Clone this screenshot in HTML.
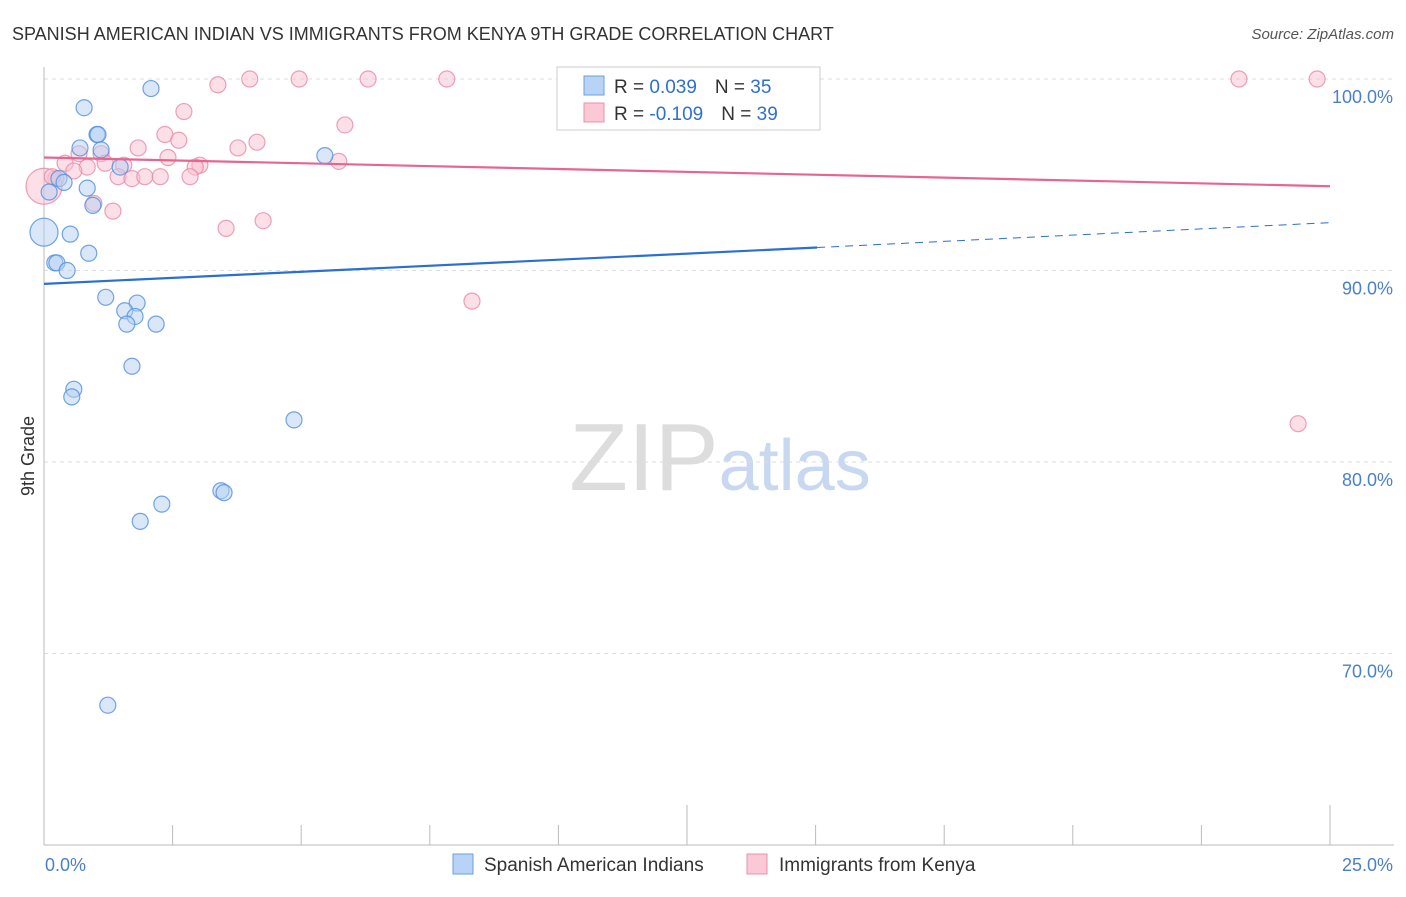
<!DOCTYPE html>
<html><head><meta charset="utf-8"><style>
body{margin:0;background:#fff;font-family:"Liberation Sans",sans-serif}
svg text{font-family:"Liberation Sans",sans-serif}
</style></head><body>
<svg id="chart" width="1406" height="892" viewBox="0 0 1406 892" xmlns="http://www.w3.org/2000/svg">
<text x="12" y="40" font-size="18" fill="#333">SPANISH AMERICAN INDIAN VS IMMIGRANTS FROM KENYA 9TH GRADE CORRELATION CHART</text>
<text x="1394" y="39" font-size="15" fill="#555" text-anchor="end" font-style="italic">Source: ZipAtlas.com</text>
<text x="720" y="490" font-size="96" text-anchor="middle" fill="#ddd" font-family="Liberation Serif">ZIP<tspan fill="#c8d8f0" font-family="Liberation Sans" font-size="72">atlas</tspan></text>
<g id="grid"></g><g id="axes"></g><g id="marks"></g>
<text transform="translate(34,456) rotate(-90)" font-size="18" fill="#333" text-anchor="middle">9th Grade</text>
<g>
<rect x="557" y="67" width="263" height="63" fill="#fff" stroke="#ccc"/>
<rect x="584" y="76" width="20" height="19" fill="#b8d3f5" stroke="#6a9fe0"/>
<rect x="584" y="103" width="20" height="19" fill="#fbc8d6" stroke="#e890aa"/>
<text x="614" y="93" font-size="19" fill="#333">R = <tspan fill="#2f6fd0"> 0.039</tspan><tspan dx="18" fill="#333">N = </tspan><tspan fill="#2f6fd0">35</tspan></text>
<text x="614" y="120" font-size="19" fill="#333">R = <tspan fill="#2f6fd0">-0.109</tspan><tspan dx="18" fill="#333">N = </tspan><tspan fill="#2f6fd0">39</tspan></text>
</g>
<g>
<rect x="453" y="854" width="20" height="20" fill="#b8d3f5" stroke="#6a9fe0"/>
<text x="484" y="871" font-size="19" fill="#333">Spanish American Indians</text>
<rect x="747" y="854" width="20" height="20" fill="#fbc8d6" stroke="#e890aa"/>
<text x="779" y="871" font-size="19" fill="#333">Immigrants from Kenya</text>
</g>
</svg>
<script>
const yTicks=[100,90,80,70];
const yTickLabels=["100.0%","90.0%","80.0%","70.0%"];
const xTickLabels=["0.0%","25.0%"];
const blueX=[2.08,0.78,1.03,1.05,0.70,1.11,1.48,0.29,0.39,0.84,0.10,0.95,0.0,0.51,0.87,0.21,0.25,0.45,1.20,1.81,1.57,1.77,1.61,2.18,1.71,0.58,0.54,4.86,3.44,3.50,2.29,1.87,1.24,5.46,12.52];
const blueY=[99.5,98.5,97.1,97.1,96.4,96.3,95.4,94.8,94.6,94.3,94.1,93.4,92.0,91.9,90.9,90.4,90.4,90.0,88.6,88.3,87.9,87.6,87.2,87.2,85.0,83.8,83.4,82.2,78.5,78.4,77.8,76.9,67.3,96.0,99.9];
const blueR=[8,8,8,8,8,8,8,8,8,8,8,8,14,8,8,8,8,8,8,8,8,8,8,8,8,8,8,8,8,8,8,8,8,8,8];
const pinkX=[3.38,4.00,4.96,6.30,7.83,23.23,24.75,2.72,5.85,2.35,2.62,1.83,4.14,3.77,1.11,2.41,0.68,0.41,0.84,1.19,1.55,0.58,3.03,2.94,5.73,1.44,1.71,1.96,2.26,2.84,0.23,0.0,1.34,0.97,3.54,4.26,8.32,24.38,0.16];
const pinkY=[99.7,100,100,100,100,100,100,98.3,97.6,97.1,96.8,96.4,96.7,96.4,96.1,95.9,96.1,95.6,95.4,95.6,95.5,95.2,95.5,95.4,95.7,94.9,94.8,94.9,94.9,94.9,94.8,94.4,93.1,93.5,92.2,92.6,88.4,82.0,94.9];
const pinkR=[8,8,8,8,8,8,8,8,8,8,8,8,8,8,8,8,8,8,8,8,8,8,8,8,8,8,8,8,8,8,8,18,8,8,8,8,8,8,8];
const blueTrend=[[0,89.3],[15.03,91.2],[25,92.5]];
const pinkTrend=[[0,95.9],[25,94.4]];
const NS="http://www.w3.org/2000/svg";
const X=v=>44+v/25*1286;
const Y=v=>79+(100-v)*19.15;
function mk(tag,at,parent){const e=document.createElementNS(NS,tag);for(const k in at)e.setAttribute(k,at[k]);document.getElementById(parent).appendChild(e);return e;}
yTicks.forEach((t,i)=>{
 const g=mk('line',{x1:44,x2:1394,y1:Y(t),y2:Y(t),stroke:'#ddd','stroke-dasharray':'4,4'},'grid');
 
 
 const l=mk('text',{x:1393,y:Y(t)+24,'font-size':18,fill:'#4a7fd0','text-anchor':'end'},'axes');
 l.textContent=yTickLabels[i];
 
 
});
const ax=mk('line',{x1:44,x2:1394,y1:845,y2:845,stroke:'#bbb'},'axes');


const ay=mk('line',{x1:44,x2:44,y1:67,y2:845,stroke:'#bbb'},'axes');


for(let i=1;i<=10;i++){
 const v=i*2.5;
 const t=mk('line',{x1:X(v),x2:X(v),y1:(i%5==0)?805:825,y2:845,stroke:'#bbb'},'axes');
 
 
}
xTickLabels.forEach((s,i)=>{
 const l=mk('text',{x:i?1393:45,y:871,'font-size':18,fill:'#4a7fd0','text-anchor':i?'end':'start'},'axes');
 l.textContent=s;
 
 
});
function pts(xs,ys,rs,fill,stroke,name){
 xs.forEach((x,i)=>{
  const c=mk('circle',{cx:X(x),cy:Y(ys[i]),r:rs[i],fill:fill,'fill-opacity':0.5,stroke:stroke,'stroke-opacity':0.8,'stroke-width':1.2},'marks');
  
  
 });
}
pts(pinkX,pinkY,pinkR,'#f9bfd0','#e98aa8','kenya-point');
pts(blueX,blueY,blueR,'#b3cff3','#4f8ee0','spanish-american-indian-point');
const b1=mk('line',{x1:X(blueTrend[0][0]),y1:Y(blueTrend[0][1]),x2:X(blueTrend[1][0]),y2:Y(blueTrend[1][1]),stroke:'#2a6fd4','stroke-width':2.2},'marks');


const b2=mk('line',{x1:X(blueTrend[1][0]),y1:Y(blueTrend[1][1]),x2:X(blueTrend[2][0]),y2:Y(blueTrend[2][1]),stroke:'#2a6fd4','stroke-width':1,'stroke-dasharray':'8,6'},'marks');


const p1=mk('line',{x1:X(pinkTrend[0][0]),y1:Y(pinkTrend[0][1]),x2:X(pinkTrend[1][0]),y2:Y(pinkTrend[1][1]),stroke:'#e86592','stroke-width':2.2},'marks');


</script>
</body></html>
